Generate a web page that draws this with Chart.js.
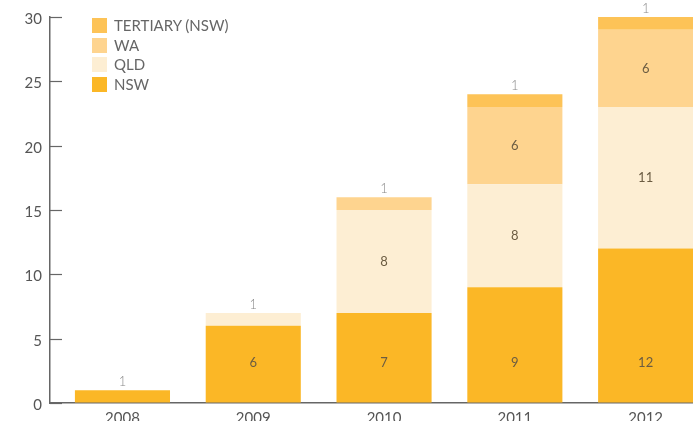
<!DOCTYPE html>
<html>
<head>
<meta charset="utf-8">
<title>Enrolments by state</title>
<script src="https://cdn.jsdelivr.net/npm/chart.js@4.4.0/dist/chart.umd.min.js"></script>
<style>
  html, body { margin: 0; padding: 0; background: #fff; overflow: hidden; }
  #wrap { position: relative; width: 693px; height: 440px; }
  #legend { position: absolute; left: 92px; top: 18px; font-family: Lato, "Open Sans", sans-serif; font-size: 15px; color: #666; }
  #legend .item { position: absolute; left: 0; white-space: nowrap; height: 15px; line-height: 15px; }
  #legend .box { display: inline-block; width: 15px; height: 15px; vertical-align: top; margin-right: 7px; }
</style>
</head>
<body>
<div id="wrap">
  <canvas id="myChart" width="693" height="440"></canvas>
  <div id="legend"></div>
</div>
<script>
// data
const years = [2008, 2009, 2010, 2011, 2012];
const nsw = [1, 6, 7, 9, 12];
const qld = [null, 1, 8, 8, 11];
const wa = [null, null, 1, 6, 6];
const tertiary = [null, null, null, 1, 1];
const yTicks = [0, 5, 10, 15, 20, 25, 30];

const series = [
    { label: 'NSW', values: nsw, color: '#fbb726' },
    { label: 'QLD', values: qld, color: '#fdeed3' },
    { label: 'WA', values: wa, color: '#fed48f' },
    { label: 'TERTIARY (NSW)', values: tertiary, color: '#fdc357' }
];

/* value labels: small values sit above the bar, NSW labels sit on one row */
const valueLabels = {
    id: 'valueLabels',
    afterDatasetsDraw(chart) {
        const ctx = chart.ctx;
        ctx.save();
        ctx.textAlign = 'center';
        chart.data.datasets.forEach((ds, di) => {
            chart.getDatasetMeta(di).data.forEach((bar, i) => {
                const v = ds.data[i].y;
                if (v == null) return;
                if (v <= 1) {
                    ctx.font = '300 13px Lato, sans-serif';
                    ctx.fillStyle = '#8a8a8a';
                    ctx.textBaseline = 'alphabetic';
                    ctx.fillText(String(v), bar.x, bar.y - 4);
                } else {
                    ctx.font = '13px Lato, sans-serif';
                    ctx.fillStyle = '#6b5c42';
                    ctx.textBaseline = 'middle';
                    const y = di === 0 ? bar.base - 40 : (bar.y + bar.base) / 2;
                    ctx.fillText(String(v), bar.x, y);
                }
            });
        });
        ctx.restore();
    }
};

/* y tick marks point into the plot */
const innerTicks = {
    id: 'innerTicks',
    afterDraw(chart) {
        const ctx = chart.ctx;
        const yScale = chart.scales.y;
        const left = chart.chartArea.left;
        ctx.save();
        ctx.strokeStyle = '#666';
        ctx.lineWidth = 1.2;
        yScale.ticks.forEach(t => {
            const y = Math.round(yScale.getPixelForValue(t.value)) + 0.5;
            ctx.beginPath();
            ctx.moveTo(left, y);
            ctx.lineTo(left + 12, y);
            ctx.stroke();
        });
        ctx.restore();
    }
};

var ctx = document.getElementById('myChart').getContext('2d');
var chart = new Chart(ctx, {
    type: 'bar',
    data: {
        datasets: series.map(s => ({
            label: s.label,
            backgroundColor: s.color,
            borderWidth: 0,
            categoryPercentage: 1,
            barPercentage: 0.727,
            data: years.map((yr, i) => ({ x: yr, y: s.values[i] }))
        }))
    },
    options: {
        responsive: false,
        animation: false,
        layout: { padding: { top: 17, left: 0, right: 0, bottom: 0 } },
        plugins: {
            legend: { display: false },
            tooltip: { enabled: false }
        },
        scales: {
            x: {
                type: 'linear',
                stacked: true,
                offset: false,
                min: 2007.446,
                max: 2012.362,
                grid: { display: true, drawOnChartArea: false, drawTicks: false },
                border: { display: true, color: '#666', width: 1.5 },
                ticks: {
                    stepSize: 1,
                    includeBounds: false,
                    autoSkip: false,
                    maxRotation: 0,
                    padding: 6,
                    color: '#555',
                    font: { family: 'Lato, sans-serif', size: 15 },
                    callback: v => Number.isInteger(v) ? String(v) : ''
                },
                afterFit: s => { s.height = 37; }
            },
            y: {
                stacked: true,
                min: 0,
                max: 30,
                grid: { drawOnChartArea: false, drawTicks: false },
                border: { display: true, color: '#666', width: 1.5 },
                afterBuildTicks: s => { s.ticks = yTicks.map(v => ({ value: v })); },
                ticks: {
                    padding: 8,
                    labelOffset: 2,
                    color: '#555',
                    font: { family: 'Lato, sans-serif', size: 15 }
                },
                afterFit: s => { s.width = 50; }
            }
        }
    },
    plugins: [valueLabels, innerTicks]
});

// legend, top entry first like the original
const legendEl = document.getElementById('legend');
series.slice().reverse().forEach((s, i) => {
    const item = document.createElement('div');
    item.className = 'item';
    item.style.top = (i * 19.7) + 'px';
    item.innerHTML = '<span class="box" style="background:' + s.color + '"></span>' + s.label;
    legendEl.appendChild(item);
});
</script>
</body>
</html>
